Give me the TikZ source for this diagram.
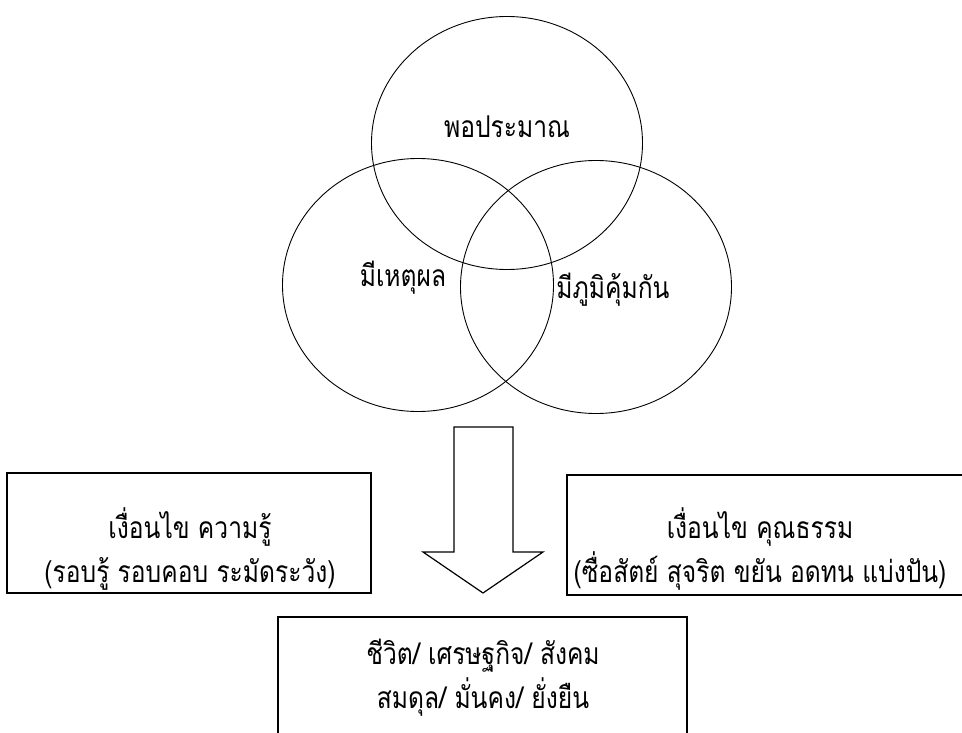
\documentclass[tikz,border=0pt]{standalone}
\usepackage{fontspec}
\newfontfamily\thaifont[Script=Thai,FakeStretch=0.82]{Loma}
\usetikzlibrary{shapes.geometric}

\begin{document}
\begin{tikzpicture}[x=1pt,y=-1pt,
	ring/.style={ellipse,draw,line width=0.9pt,minimum width=271pt,minimum height=253pt,inner sep=0pt},
	thai text/.style={font=\thaifont\fontsize{30}{44}\selectfont,inner sep=0pt,align=center},
	frame/.style={draw,line width=1.4pt,inner sep=0pt}]

	\useasboundingbox (0,0) rectangle (962,733);

	% three rings
	\node[ring] (enough) at (507,143) {};
	\node[ring] (reason) at (418,285) {};
	\node[ring] (immune) at (596,287) {};

	\node[thai text] (enoughtxt) at (507,127) {พอประมาณ};
	\node[thai text] (reasontxt) at (403,278) {มีเหตุผล};
	\node[thai text] (immunetxt) at (613,290) {มีภูมิคุ้มกัน};

	% big arrow
	\draw[line width=1.2pt,line join=miter] (454,427) -- (513,427) -- (513,552) -- (543,552)
		-- (483,593) -- (423,552) -- (454,552) -- cycle;

	% condition boxes
	\node[frame,minimum width=364pt,minimum height=120pt] (know) at (189,533) {};
	\node[frame,minimum width=420pt,minimum height=120pt] (moral) at (777,535) {};
	\node[frame,minimum width=409pt,minimum height=160pt] (result) at (482.5,697) {};

	\node[thai text] (knowtxt) at (190,549) {เงื่อนไข ความรู้\\(รอบรู้ รอบคอบ ระมัดระวัง)};
	\node[thai text] (moraltxt) at (760,549) {เงื่อนไข คุณธรรม\\(ซื่อสัตย์ สุจริต ขยัน อดทน แบ่งปัน)};
	\node[thai text] (resulttxt) at (483,678) {ชีวิต/ เศรษฐกิจ/ สังคม\\สมดุล/ มั่นคง/ ยั่งยืน};

\end{tikzpicture}
\end{document}
